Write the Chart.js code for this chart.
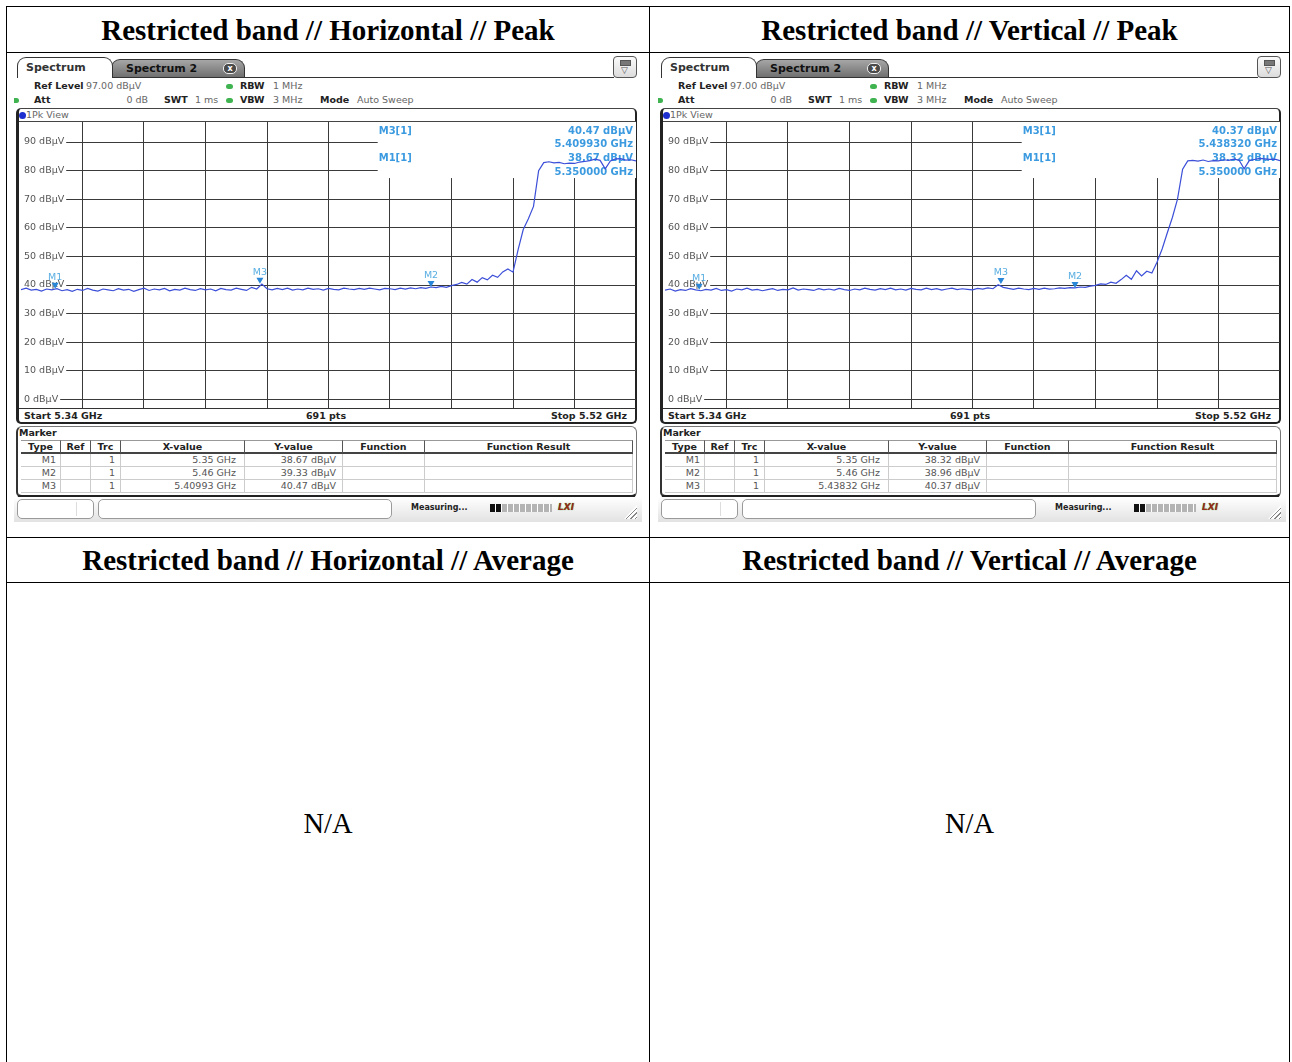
<!DOCTYPE html>
<html>
<head>
<meta charset="utf-8">
<script src="https://cdn.jsdelivr.net/npm/chart.js@4.4.1/dist/chart.umd.min.js"></script>
<style>
  body { margin:0; width:1292px; height:1062px; overflow:hidden; background:#fff; position:relative; font-family:"DejaVu Sans", sans-serif; }
  .hl { position:absolute; height:1px; background:#000; }
  .vl { position:absolute; width:1px; background:#000; }
  .head { position:absolute; height:46px; line-height:46px; text-align:center; font:bold 29px "Liberation Serif", serif; color:#000; }
  .na { position:absolute; text-align:center; font:28.5px "Liberation Serif", serif; color:#000; line-height:34px; }
  .scr { position:absolute; width:628px; height:468px; background:#fff; overflow:hidden; }
  .scr div, .scr span, .scr canvas { position:absolute; white-space:nowrap; box-sizing:border-box; }
  .t { line-height:12px; font-size:9.5px; color:#666; }
  .b { font-weight:bold; color:#222; }
  .tab1 { left:3px; top:3px; width:96px; height:21px; border:1px solid #333; border-bottom:none; border-radius:9px 9px 0 0; background:#fff; font:bold 11px "DejaVu Sans"; line-height:19px; padding-left:8px; color:#333; z-index:2; }
  .tab2 { left:97px; top:5px; width:134px; height:18px; border:1px solid #333; border-bottom:none; border-radius:9px 9px 0 0; background:linear-gradient(#a6a6a6,#707070); font:bold 11px "DejaVu Sans"; line-height:17px; padding-left:14px; color:#111; }
  .cls { left:111px; top:3px; width:14px; height:11px; border:1px solid #eee; border-radius:5px; background:#4a4a4a; color:#fff; font:bold 8px "DejaVu Sans"; line-height:9px; text-align:center; }
  .tabline { left:98px; top:23px; width:502px; height:1px; background:#333; }
  .menu { left:599px; top:2px; width:24px; height:22px; border:1px solid #555; border-radius:4px; background:linear-gradient(#fbfbfb,#dcdcdc); }
  .dot { width:7px; height:5px; border-radius:3px; background:#3fb34f; }
  .pk { left:2px; top:54px; width:621px; height:316px; border:1px solid #444; border-left:3px solid #222; border-right:2px solid #222; border-bottom:2px solid #222; border-radius:5px; }
  .mk { left:2px; top:372px; width:621px; height:72px; border:1px solid #777; border-left:2px solid #333; border-bottom:3px solid #222; border-radius:6px; }
  .th { top:386px; height:14px; line-height:14px; text-align:center; font:bold 9.5px "DejaVu Sans"; color:#222; border-top:1px solid #999; border-bottom:2px solid #444; border-right:1px solid #555; }
  .td { height:13px; line-height:13px; text-align:right; font:9.5px "DejaVu Sans"; color:#555; border-bottom:1px solid #ccc; border-right:1px solid #ccc; }
  .status { left:0; top:443px; width:628px; height:25px; background:linear-gradient(#ffffff,#e2e2e2); }
  .sbox { top:445px; height:20px; border:1px solid #9a9a9a; border-radius:5px; background:#fff; }
</style>
</head>
<body>
<script>
// sweep settings
const F_START = 5.34, F_STOP = 5.52, F_STEP = 0.0015;
const SWEEP_PTS = 691;
const Y_MIN = -3, Y_MAX = 97;
const Y_TICKS = [0, 10, 20, 30, 40, 50, 60, 70, 80, 90];
const X_DIVS = 10;

const TITLES = ['Restricted band // Horizontal // Peak', 'Restricted band // Vertical // Peak',
                'Restricted band // Horizontal // Average', 'Restricted band // Vertical // Average'];

// trace levels in dBµV, one per F_STEP from F_START
const H_TRACE = [38.4, 38.9, 38.2, 38.5, 37.9, 38.6, 38.3, 38.7, 38.0, 38.4,
                 37.8, 38.5, 38.1, 38.8, 38.2, 37.9, 38.6, 38.3, 38.0, 38.7,
                 38.2, 38.5, 37.8, 38.4, 38.9, 38.1, 38.6, 38.3, 38.8, 38.0,
                 38.5, 38.2, 38.9, 38.4, 38.1, 38.7, 38.3, 38.6, 38.0, 38.8,
                 38.4, 38.2, 38.9, 38.5, 38.1, 39.2, 38.6, 40.3, 38.7, 38.3,
                 38.8, 38.4, 38.9, 38.2, 38.6, 38.3, 38.9, 38.5, 38.7, 38.2,
                 38.8, 38.5, 38.3, 38.9, 38.6, 38.4, 38.8, 38.5, 38.9, 38.6,
                 38.3, 38.8, 38.7, 38.4, 38.9, 38.6, 39.0, 38.7, 39.1, 38.8,
                 39.3, 39.1, 39.5, 39.2, 39.8, 40.2, 40.9, 40.3, 41.9, 41.0,
                 42.6, 41.8, 43.4, 42.7, 44.6, 45.6, 44.5, 52.4, 59.4, 63.2,
                 67.5, 80.0, 82.8, 83.1, 82.7, 82.9, 82.4, 82.6, 82.5, 83.0,
                 83.2, 83.5, 84.0, 83.6, 80.6, 83.4, 84.1, 84.2, 83.7, 83.8,
                 83.4];
const V_TRACE = [38.2, 38.6, 37.9, 38.4, 38.1, 38.7, 38.3, 38.0, 38.5, 38.2,
                 38.8, 38.1, 38.4, 37.9, 38.6, 38.3, 38.9, 38.2, 38.5, 38.0,
                 38.4, 38.7, 38.1, 38.5, 38.3, 39.0, 38.2, 38.6, 38.4, 38.1,
                 38.7, 38.3, 38.6, 38.2, 38.8, 38.4, 38.1, 38.6, 38.3, 38.9,
                 38.5, 38.2, 38.7, 38.4, 38.9, 38.3, 38.6, 38.2, 38.8, 38.5,
                 38.3, 38.9, 38.4, 38.7, 38.2, 38.6, 38.9, 38.4, 38.7, 38.5,
                 38.3, 38.8, 38.6, 39.0, 38.7, 40.1, 39.2, 38.8, 38.5, 38.9,
                 38.6, 38.4, 38.8, 38.5, 38.9, 38.6, 38.7, 39.0, 38.8, 39.1,
                 39.0, 39.3, 39.2, 39.6, 39.9, 40.4, 40.2, 41.0, 40.6, 41.9,
                 43.4, 42.0, 45.0, 43.2, 44.8, 44.2, 48.0, 52.6, 58.2, 63.6,
                 70.0, 80.5, 83.4, 83.6, 83.3, 83.7, 83.2, 83.5, 83.4, 83.8,
                 83.6, 84.0, 83.7, 80.6, 83.5, 83.9, 84.3, 84.1, 83.9, 84.0,
                 83.5];

// marker table
const MARKER_NAMES = ['M1', 'M2', 'M3'];
const H_MARKER_FREQ = [5.35, 5.46, 5.40993];
const H_MARKER_LEVEL = [38.67, 39.33, 40.47];
const V_MARKER_FREQ = [5.35, 5.46, 5.43832];
const V_MARKER_LEVEL = [38.32, 38.96, 40.37];

const TRACE_COLOR = '#3c4fd8';
const MARKER_COLOR = '#2a86d6';
const INFO_COLOR = '#3c9be0';
const GRID_COLOR = '#3a3a3a';

// ---- table frame ----
function line(cls, x, y, len) {
  const d = document.createElement('div');
  d.className = cls;
  d.style.left = x + 'px'; d.style.top = y + 'px';
  if (cls === 'hl') d.style.width = len + 'px'; else d.style.height = len + 'px';
  document.body.appendChild(d);
}
[6, 52, 537, 582].forEach(y => line('hl', 6, y, 1284));
[6, 649, 1289].forEach(x => line('vl', x, 6, 1060));

function cellText(cls, x, y, w, text) {
  const d = document.createElement('div');
  d.className = cls;
  d.style.left = x + 'px'; d.style.top = y + 'px'; d.style.width = w + 'px';
  d.textContent = text;
  document.body.appendChild(d);
}
cellText('head', 7, 14, 642, TITLES[0]);
cellText('head', 650, 14, 639, TITLES[1]);
cellText('head', 7, 544, 642, TITLES[2]);
cellText('head', 650, 544, 639, TITLES[3]);
cellText('na', 7, 807, 642, 'N/A');
cellText('na', 650, 807, 639, 'N/A');

// ---- one analyzer screenshot ----
function txt(x, yc, s, extra, right) {
  const pos = right ? 'right:' + (628 - x) + 'px;' : 'left:' + x + 'px;';
  return '<span class="t ' + (extra || '') + '" style="' + pos + 'top:' + (yc - 6) + 'px">' + s + '</span>';
}

function infoBox(mFreq, mLevel) {
  return {
    id: 'infoBox',
    beforeDatasetsDraw(chart) {
      const { ctx, chartArea: a } = chart;
      const x0 = a.left + a.width * 0.58;
      const y1 = a.top + a.height * 0.196;
      ctx.save();
      ctx.fillStyle = '#fff';
      ctx.fillRect(x0, a.top, a.right - x0, y1 - a.top);
      ctx.fillStyle = INFO_COLOR;
      ctx.font = 'bold 10px "DejaVu Sans"';
      ctx.textBaseline = 'middle';
      [2, 0].forEach((m, k) => {
        const yTop = a.top + 9 + k * 27.5;
        ctx.textAlign = 'left';
        ctx.fillText(MARKER_NAMES[m] + '[1]', x0 + 1, yTop);
        ctx.textAlign = 'right';
        ctx.fillText(mLevel[m].toFixed(2) + ' dBµV', a.right - 3, yTop);
        ctx.fillText(mFreq[m].toFixed(6) + ' GHz', a.right - 3, yTop + 13.5);
      });
      ctx.restore();
    }
  };
}

function markerPlugin(mFreq, mLevel) {
  return {
    id: 'markers',
    afterDatasetsDraw(chart) {
      const { ctx, scales: { x, y } } = chart;
      ctx.save();
      ctx.font = '9.5px "DejaVu Sans"';
      ctx.textAlign = 'center';
      ctx.textBaseline = 'middle';
      MARKER_NAMES.forEach((name, i) => {
        const px = x.getPixelForValue(mFreq[i]);
        const py = y.getPixelForValue(mLevel[i]);
        ctx.fillStyle = MARKER_COLOR;
        ctx.beginPath();
        ctx.moveTo(px - 3.5, py - 6);
        ctx.lineTo(px + 3.5, py - 6);
        ctx.lineTo(px, py);
        ctx.closePath();
        ctx.fill();
        ctx.fillStyle = '#5aaee2';
        ctx.fillText(name, px, py - 11.5);
      });
      ctx.restore();
    }
  };
}

function buildPanel(left, top, trace, mFreq, mLevel) {
  const el = document.createElement('div');
  el.className = 'scr';
  el.style.left = left + 'px';
  el.style.top = top + 'px';

  let h = '';
  h += '<div class="tab1">Spectrum</div>';
  h += '<div class="tab2">Spectrum 2<div class="cls">x</div></div>';
  h += '<div class="tabline"></div>';
  h += '<div class="menu"><div style="left:6px;top:3px;width:11px;height:6px;border:1px solid #555;background:#777"></div>' +
       '<span style="left:7px;top:8px;font:9px \'DejaVu Sans\';color:#555">▽</span></div>';

  // settings lines
  h += txt(20, 32, 'Ref Level', 'b') + txt(72, 32, '97.00 dBµV');
  h += '<div class="dot" style="left:212px;top:30px"></div>' + txt(226, 32, 'RBW', 'b') + txt(259, 32, '1 MHz');
  h += '<div class="dot" style="left:-2px;top:44px"></div>' + txt(20, 46, 'Att', 'b') + txt(134, 46, '0 dB', '', true);
  h += txt(150, 46, 'SWT', 'b') + txt(181, 46, '1 ms');
  h += '<div class="dot" style="left:212px;top:44px"></div>' + txt(226, 46, 'VBW', 'b') + txt(259, 46, '3 MHz');
  h += txt(306, 46, 'Mode', 'b') + txt(343, 46, 'Auto Sweep');

  // diagram frame
  h += '<div class="pk"></div>';
  h += '<div style="left:5px;top:58px;width:7px;height:7px;border-radius:4px;background:#1d2fcf"></div>';
  h += txt(12, 61, '1Pk View');
  h += '<div style="left:5px;top:67px;width:617px;height:1px;background:#444"></div>';
  h += '<canvas width="615" height="286" style="left:7px;top:68px;width:615px;height:286px"></canvas>';
  h += '<div style="left:5px;top:354px;width:617px;height:1px;background:#333"></div>';
  h += txt(10, 362, 'Start ' + F_START.toFixed(2) + ' GHz', 'b');
  h += '<span class="t b" style="left:262px;width:100px;text-align:center;top:356px">' + SWEEP_PTS + ' pts</span>';
  h += txt(613, 362, 'Stop ' + F_STOP.toFixed(2) + ' GHz', 'b', true);

  // marker table
  h += '<div class="mk"></div>';
  h += txt(5, 379, 'Marker', 'b');
  const cols = [7, 47, 77, 107, 231, 329, 411, 619];
  const heads = ['Type', 'Ref', 'Trc', 'X-value', 'Y-value', 'Function', 'Function Result'];
  heads.forEach((s, c) => {
    h += '<div class="th" style="left:' + cols[c] + 'px;width:' + (cols[c + 1] - cols[c]) + 'px">' + s + '</div>';
  });
  const pads = [4, 4, 5, 8, 6, 4, 4];
  MARKER_NAMES.forEach((name, r) => {
    const cells = [name, '', '1', String(mFreq[r]) + ' GHz', mLevel[r].toFixed(2) + ' dBµV', '', ''];
    cells.forEach((s, c) => {
      h += '<div class="td" style="left:' + cols[c] + 'px;width:' + (cols[c + 1] - cols[c]) + 'px;top:' + (400 + r * 13) +
           'px;padding-right:' + pads[c] + 'px">' + s + '</div>';
    });
  });

  // status bar
  h += '<div class="status"></div>';
  h += '<div class="sbox" style="left:3px;width:77px"><div style="left:58px;top:2px;width:1px;height:14px;background:#ddd"></div></div>';
  h += '<div class="sbox" style="left:84px;width:294px"></div>';
  h += '<span style="left:397px;top:449px;font:bold 8px \'DejaVu Sans\';color:#222;line-height:10px">Measuring...</span>';
  h += '<div style="left:476px;top:450px;width:62px;height:8px;background:repeating-linear-gradient(90deg,#b4b4b4 0 5px,#fff 5px 6px)"></div>';
  h += '<div style="left:476px;top:450px;width:11px;height:8px;background:repeating-linear-gradient(90deg,#111 0 5px,#fff 5px 6px)"></div>';
  h += '<span style="left:544px;top:447px;font:italic bold 9px \'DejaVu Sans\';color:#9b2a1a;text-shadow:0 0 1px #2f9a2f;line-height:12px">LXI</span>';
  h += '<div style="left:610px;top:451px;width:13px;height:14px;clip-path:polygon(100% 0,100% 100%,0 100%);' +
       'background:repeating-linear-gradient(135deg,#fff 0 2px,#888 2px 3px)"></div>';

  el.innerHTML = h;
  document.body.appendChild(el);

  const gridFreqs = [];
  for (let k = 1; k < X_DIVS; k++) gridFreqs.push(F_START + k * (F_STOP - F_START) / X_DIVS);

  new Chart(el.querySelector('canvas'), {
    type: 'line',
    data: {
      datasets: [{
        data: trace.map((v, i) => ({ x: F_START + i * F_STEP, y: v })),
        borderColor: TRACE_COLOR,
        borderWidth: 1.2,
        pointRadius: 0,
        tension: 0
      }]
    },
    options: {
      responsive: false,
      animation: false,
      events: [],
      layout: { padding: 0, autoPadding: false },
      plugins: { legend: { display: false }, tooltip: { enabled: false } },
      scales: {
        x: {
          type: 'linear', min: F_START, max: F_STOP,
          afterBuildTicks: s => { s.ticks = gridFreqs.map(v => ({ value: v })); },
          afterFit: s => { s.height = 0; },
          ticks: { display: false },
          grid: { color: GRID_COLOR, lineWidth: 1, drawTicks: false },
          border: { display: false }
        },
        y: {
          min: Y_MIN, max: Y_MAX,
          afterBuildTicks: s => { s.ticks = Y_TICKS.map(v => ({ value: v })); },
          afterFit: s => { s.width = 0; s.paddingTop = 0; s.paddingBottom = 0; },
          ticks: {
            mirror: true, padding: 3, color: '#555',
            font: { family: 'DejaVu Sans', size: 9.5 },
            callback: v => v + ' dBµV',
            showLabelBackdrop: true, backdropColor: '#fff',
            backdropPadding: { top: 0, bottom: 0, left: 3, right: 2 }
          },
          grid: { color: GRID_COLOR, lineWidth: 1, drawTicks: false },
          border: { display: false }
        }
      }
    },
    plugins: [infoBox(mFreq, mLevel), markerPlugin(mFreq, mLevel)]
  });
}

buildPanel(14, 54, H_TRACE, H_MARKER_FREQ, H_MARKER_LEVEL);
buildPanel(658, 54, V_TRACE, V_MARKER_FREQ, V_MARKER_LEVEL);
</script>
</body>
</html>
